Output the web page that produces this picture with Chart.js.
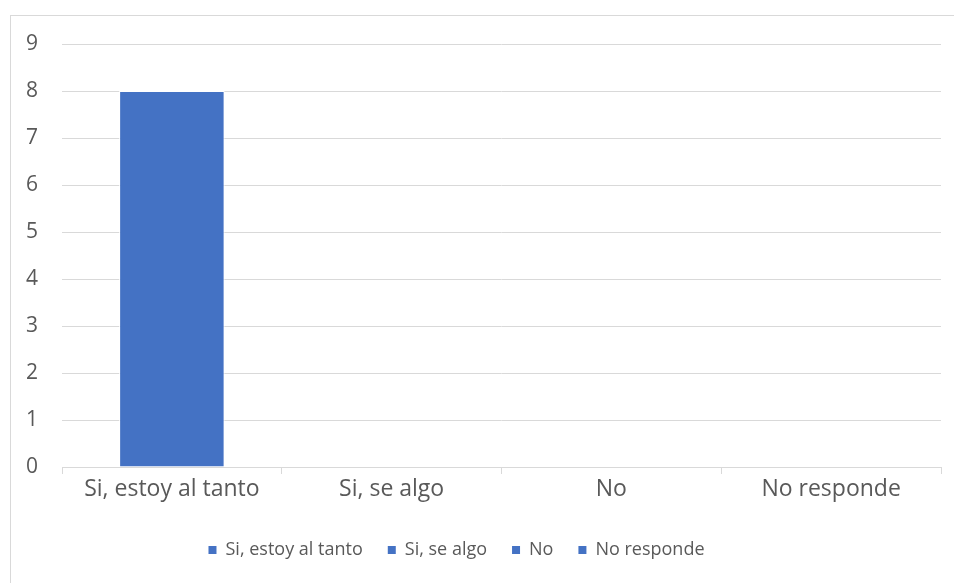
<!DOCTYPE html>
<html>
<head>
<meta charset="utf-8">
<script src="https://cdn.jsdelivr.net/npm/chart.js@4.4.1/dist/chart.umd.min.js"></script>
<style>
  html, body { margin: 0; padding: 0; background: #fff; }
  #wrap { position: relative; width: 954px; height: 583px; overflow: hidden; }
  #frame { position: absolute; left: 10px; top: 15px; width: 960px; height: 600px;
           border-left: 1px solid #d9d9d9; border-top: 1px solid #d9d9d9; box-sizing: border-box; }
  canvas { position: absolute; left: 0; top: 0; }
</style>
</head>
<body>
<div id="wrap">
  <div id="frame"></div>
  <canvas id="c" width="954" height="583"></canvas>
</div>
<script>
const titleText = "Gráfico n° 8: Conocimiento sobre el tema";
const categories = ["Si, estoy al tanto", "Si, se algo", "No", "No responde"];
const values = [8, 0, 0, 0];
const yTicks = [0, 1, 2, 3, 4, 5, 6, 7, 8, 9];

const FONT = "'Open Sans', 'Liberation Sans', sans-serif";
const TEXT = "#595959";
const BAR = "#4472C4";
const GRID = "#d9d9d9";

const cutTitle = {
  id: 'cutTitle',
  afterDraw(chart) {
    const ctx = chart.ctx;
    ctx.save();
    ctx.font = "24px " + FONT;
    ctx.fillStyle = TEXT;
    ctx.textAlign = "center";
    ctx.textBaseline = "alphabetic";
    ctx.fillText(titleText, 482, -1);
    ctx.restore();
  }
};

const legendFix = {
  id: 'legendFix',
  beforeLayout(chart) {
    const lg = chart.legend;
    if (lg && !lg._patched) {
      const orig = lg.fit;
      lg.fit = function () { orig.call(this); this.height = 67; };
      lg._patched = true;
    }
  },
  afterLayout(chart) {
    const lg = chart.legend;
    if (lg) { lg.left -= 14; lg.right -= 14; }
  }
};

new Chart(document.getElementById('c'), {
  type: 'bar',
  data: {
    labels: categories,
    datasets: [{
      data: values,
      backgroundColor: BAR,
      borderColor: '#ffffff',
      borderWidth: 1,
      barPercentage: 0.48,
      categoryPercentage: 1.0
    }]
  },
  options: {
    responsive: false,
    animation: false,
    layout: { padding: { top: 44, right: 13, bottom: 0, left: 0 } },
    plugins: {
      title: { display: false },
      tooltip: { enabled: false },
      legend: {
        display: true,
        position: 'bottom',
        labels: {
          font: { family: FONT, size: 18 },
          color: TEXT,
          boxWidth: 8,
          boxHeight: 8,
          padding: 25,
          generateLabels() {
            return categories.map((c, i) => ({
              text: c, fillStyle: BAR, strokeStyle: BAR, lineWidth: 0,
              fontColor: TEXT, hidden: false, index: i
            }));
          }
        }
      }
    },
    scales: {
      x: {
        offset: true,
        grid: { display: true, drawOnChartArea: false, drawTicks: true, tickLength: 7, color: GRID, offset: true },
        border: { display: true, color: GRID, width: 1 },
        ticks: { font: { family: FONT, size: 23 }, color: TEXT, padding: 2, maxRotation: 0 },
        afterFit(s) { s.height = 49; }
      },
      y: {
        min: 0, max: 9,
        afterBuildTicks(s) { s.ticks = yTicks.map(v => ({ value: v })); },
        grid: { color: GRID, drawTicks: false, lineWidth: 1 },
        border: { display: false },
        ticks: { font: { family: FONT, size: 21 }, color: TEXT, padding: 24 },
        afterFit(s) { s.width = 62; }
      }
    }
  },
  plugins: [cutTitle, legendFix]
});
</script>
</body>
</html>
